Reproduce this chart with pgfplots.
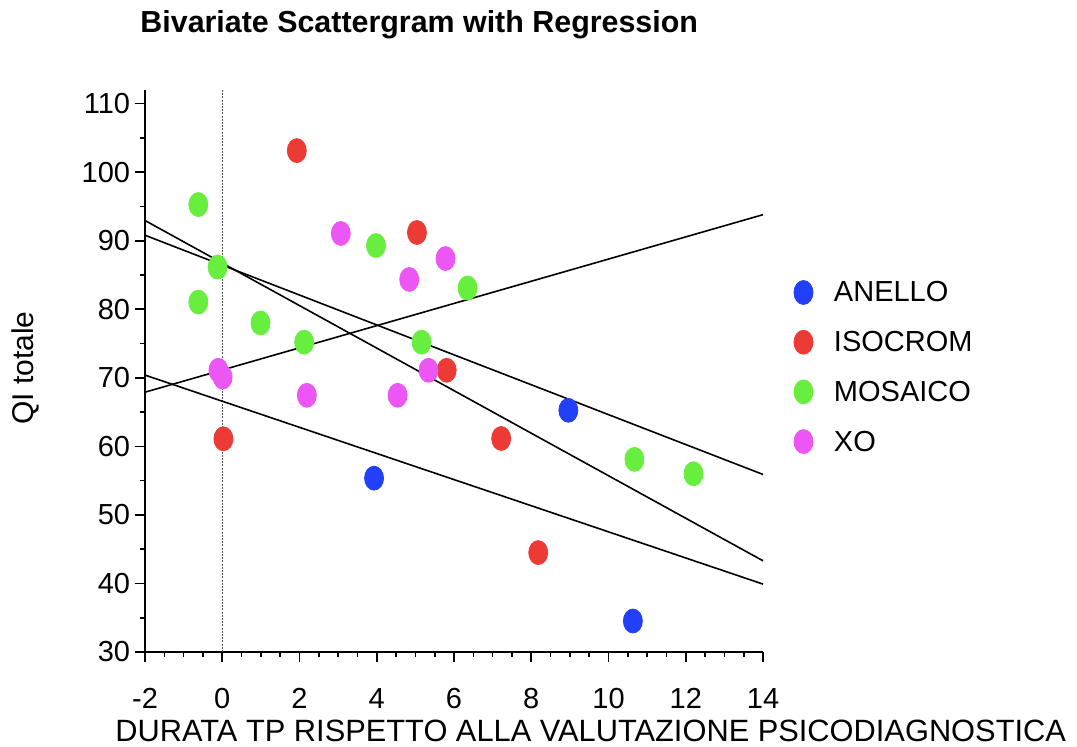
\documentclass[border=0pt]{standalone}
\usepackage{fontspec}
\setmainfont{Liberation Sans}
\usepackage{pgfplots}
\pgfplotsset{compat=1.18}

\definecolor{cAnello}{RGB}{34,64,250}
\definecolor{cIsocrom}{RGB}{236,58,52}
\definecolor{cMosaico}{RGB}{104,238,62}
\definecolor{cXO}{RGB}{236,86,244}

\begin{document}
\begin{tikzpicture}
\begin{axis}[
  scale only axis, width=309pt, height=281pt,
  xmin=-2, xmax=14, ymin=30, ymax=112,
  axis x line=bottom, axis y line=left,
  axis line style={-, line width=1pt},
  xtick={-2,0,...,14}, ytick={30,40,...,110},
  minor x tick num=3, minor y tick num=1,
  tick align=outside, tick style={black, line width=0.8pt},
  major tick length=5pt, minor tick length=2.5pt,
  /pgf/number format/assume math mode=true,
  ticklabel style={font=\fontsize{14.5}{17}\selectfont},
  xticklabel style={anchor=base, inner sep=0pt, yshift=-23.5pt},
  yticklabel style={anchor=east, inner sep=0pt, xshift=-2.25pt},
  clip=false,
  every axis title shift=0pt,
  title={\bfseries Bivariate Scattergram with Regression},
  title style={at={(axis description cs:-0.008,1.1014)}, anchor=base west,
    inner sep=0pt, font=\fontsize{15.2}{18}\selectfont},
  xlabel={DURATA TP RISPETTO ALLA VALUTAZIONE PSICODIAGNOSTICA},
  xlabel style={at={(axis description cs:-0.0485,-0.160)}, anchor=base west,
    inner sep=0pt, font=\fontsize{15.4}{18}\selectfont},
  ylabel={QI totale},
  ylabel style={at={(axis description cs:-0.194,0.505)}, anchor=center,
    inner sep=0pt, font=\fontsize{15}{18}\selectfont},
  legend style={at={(axis description cs:1.0397,0.675)}, anchor=north west,
    draw=none, fill=none, font=\fontsize{14.5}{17}\selectfont,
    nodes={text height=10.5pt, text depth=1pt}, row sep=9.35pt, column sep=8.5pt},
  legend cell align=left,
  every axis plot/.append style={mark size=4.75pt},
]
% reference line at x = 0
\addplot[forget plot, black!70, line width=0.5pt, dash pattern=on 1pt off 0.6pt]
  coordinates {(0,30) (0,112)};
% regression lines
\addplot[forget plot, black, line width=0.8pt] coordinates {(-2,70.4) (14,39.9)};  % ANELLO
\addplot[forget plot, black, line width=0.8pt] coordinates {(-2,92.95) (14,43.3)}; % ISOCROM
\addplot[forget plot, black, line width=0.8pt] coordinates {(-2,90.8) (14,55.9)};  % MOSAICO
\addplot[forget plot, black, line width=0.8pt] coordinates {(-2,67.9) (14,93.8)};  % XO
% groups
\addplot[only marks, mark=*, color=cAnello, mark options={yscale=1.26}]
  coordinates {(3.93,55.36) (8.96,65.26) (10.63,34.52)};
\addlegendentry{ANELLO}
\addplot[only marks, mark=*, color=cIsocrom, mark options={yscale=1.26}]
  coordinates {(1.93,103.15) (5.04,91.2) (0.03,61.1) (5.81,71.1) (7.22,61.15) (8.18,44.5)};
\addlegendentry{ISOCROM}
\addplot[only marks, mark=*, color=cMosaico, mark options={yscale=1.26}]
  coordinates {(-0.62,95.28) (-0.12,86.15) (-0.62,81.05) (0.99,78.0) (2.12,75.2)
    (3.98,89.3) (5.16,75.2) (6.35,83.1) (10.67,58.1) (12.2,56.0)};
\addlegendentry{MOSAICO}
\addplot[only marks, mark=*, color=cXO, mark options={yscale=1.26}]
  coordinates {(3.07,91.06) (5.78,87.4) (4.84,84.35) (5.34,71.1) (2.19,67.45)
    (4.54,67.45) (-0.10,71.1) (0.01,70.1)};
\addlegendentry{XO}
\coordinate (bbl) at (axis description cs:-0.2346,-0.169);
\coordinate (btr) at (axis description cs:1.508,1.160);
\end{axis}
\pgfresetboundingbox
\path[use as bounding box] (bbl) rectangle (btr);
\end{tikzpicture}
\end{document}
